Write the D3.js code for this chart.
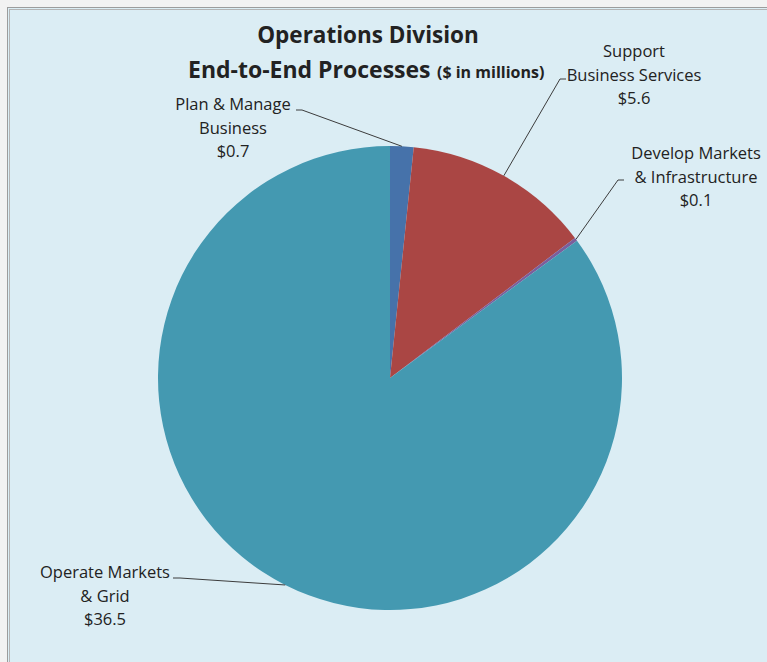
<!DOCTYPE html>
<html>
<head>
<meta charset="utf-8">
<script src="https://cdn.jsdelivr.net/npm/d3@7"></script>
<style>
  html, body { margin: 0; padding: 0; background: #f2f2f2; }
  svg { display: block; }
  text { font-family: "Open Sans", Lato, sans-serif; fill: #222; }
</style>
</head>
<body>
<svg id="chart" width="767" height="662"></svg>
<script>
// Spending by end-to-end process ($ in millions)
const categories = ["Plan & Manage Business", "Support Business Services", "Develop Markets & Infrastructure", "Operate Markets & Grid"];
const values = [0.7, 5.6, 0.1, 36.5];
const labelLines = [
  ["Plan & Manage", "Business"],
  ["Support", "Business Services"],
  ["Develop Markets", "& Infrastructure"],
  ["Operate Markets", "& Grid"]
];
const valueLabels = ["$0.7", "$5.6", "$0.1", "$36.5"];
const colors = ["#4672aa", "#aa4644", "#7b5e9c", "#4499b1"];

// label block placement: centre x, first baseline, leader start
const labelPos = [
  { x: 233, y: 110, lx: 296, ly: 110, hx: 302 },
  { x: 634, y: 57, lx: 566, ly: 79, hx: 560 },
  { x: 696, y: 159, lx: 624, ly: 180, hx: 618 },
  { x: 105, y: 578, lx: 173, ly: 578, hx: 180 }
];

const svg = d3.select("#chart");

// frame
svg.append("rect").attr("x", 7.5).attr("y", 7.5).attr("width", 780).attr("height", 700)
  .attr("fill", "#dbedf4").attr("stroke", "#9c9c9c").attr("stroke-width", 1);
svg.append("rect").attr("x", 9.5).attr("y", 9.5).attr("width", 780).attr("height", 700)
  .attr("fill", "none").attr("stroke", "#b4b4b4").attr("stroke-width", 1);

const cx = 390, cy = 378, r = 232;
const g = svg.append("g").attr("transform", `translate(${cx},${cy})`);

const pie = d3.pie().sort(null).value(d => d)(values);
const arc = d3.arc().innerRadius(0).outerRadius(r);

g.selectAll("path.slice").data(pie).join("path")
  .attr("class", "slice")
  .attr("d", arc)
  .attr("fill", (d, i) => colors[i]);

// leader lines from label to slice edge midpoint
pie.forEach((d, i) => {
  const a = (d.startAngle + d.endAngle) / 2;
  const px = cx + r * Math.sin(a), py = cy - r * Math.cos(a);
  const p = labelPos[i];
  svg.append("polyline")
    .attr("points", `${p.lx},${p.ly} ${p.hx},${p.ly} ${px},${py}`)
    .attr("fill", "none").attr("stroke", "#3c3c3c").attr("stroke-width", 1);
});

// labels
labelLines.forEach((lines, i) => {
  const p = labelPos[i];
  const t = svg.append("text").attr("text-anchor", "middle").attr("font-size", 16.5);
  lines.concat([valueLabels[i]]).forEach((s, k) => {
    t.append("tspan").attr("x", p.x).attr("y", p.y + k * 23.5).text(s);
  });
});

// title
svg.append("text").attr("x", 368).attr("y", 43).attr("text-anchor", "middle")
  .attr("font-size", 22.5).attr("font-weight", "bold").text("Operations Division");
const t2 = svg.append("text").attr("x", 188).attr("y", 78)
  .attr("font-size", 23).attr("font-weight", "bold");
t2.append("tspan").text("End-to-End Processes");
t2.append("tspan").attr("x", 437).attr("font-size", 16).text("($ in millions)");
</script>
</body>
</html>
